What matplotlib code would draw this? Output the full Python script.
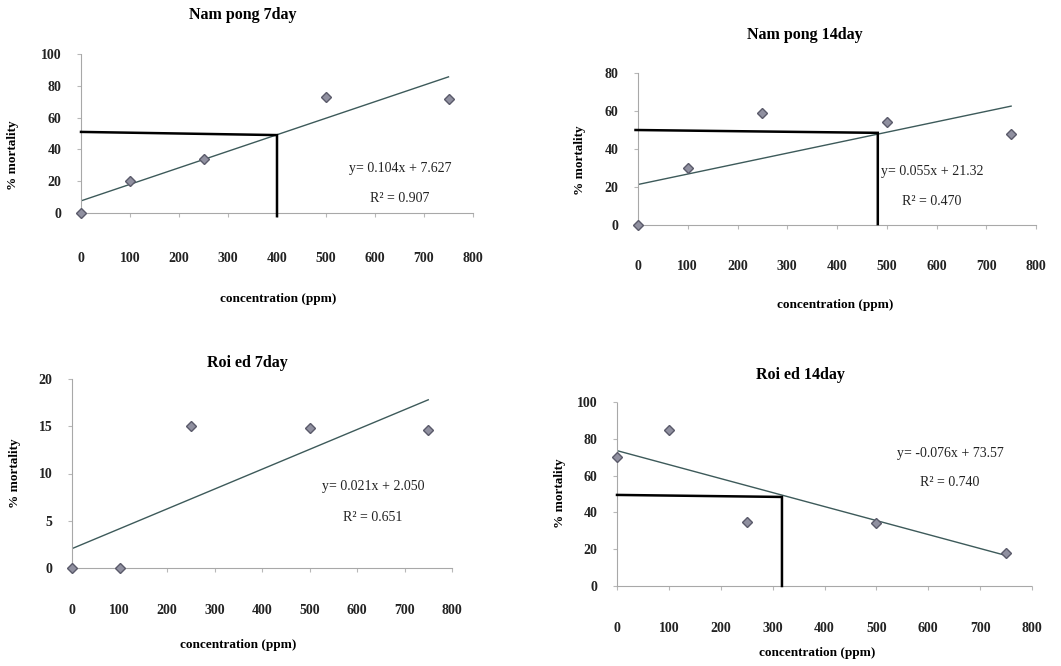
import matplotlib
matplotlib.use("Agg")
import matplotlib.pyplot as plt

plt.rcParams['font.family'] = ['Liberation Serif', 'DejaVu Serif']

W, H = 1061, 666

# ---------------- data ----------------
conc = [0, 100, 250, 500, 750]
titles = ["Nam pong 7day", "Nam pong 14day", "Roi ed 7day", "Roi ed 14day"]
mort_np7 = [0, 20, 34, 73, 72]
mort_np14 = [0, 30, 59, 54, 48]
mort_re7 = [0, 0, 15, 14.8, 14.6]
mort_re14 = [70, 85, 35, 34, 18]
slopes = [0.104, 0.055, 0.021, -0.076]
intercepts = [7.627, 21.32, 2.050, 73.57]
eq_texts = ["y= 0.104x + 7.627", "y= 0.055x + 21.32", "y= 0.021x + 2.050", "y= -0.076x + 73.57"]
r2_texts = ["R² = 0.907", "R² = 0.470", "R² = 0.651", "R² = 0.740"]
ymax = [100, 80, 20, 100]
ystep = [20, 20, 5, 20]
# LC50 reference lines (x, y) polylines
ref_np7 = ([0, 400, 400], [51, 49, -2])
ref_np14 = ([-5, 482, 482], [50, 48.5, 0.5])
ref_re7 = None
ref_re14 = ([0, 318, 318], [49.5, 48.4, 0])
xticks = [0, 100, 200, 300, 400, 500, 600, 700, 800]

series = [mort_np7, mort_np14, mort_re7, mort_re14]
refs = [ref_np7, ref_np14, ref_re7, ref_re14]

# ---------------- layout (pixels) ----------------
rects = [(81, 473, 213, 54), (638, 1036, 225, 73), (72, 452, 568, 379), (617, 1032, 586, 402)]
title_pos = [(243, 15), (805, 35), (247, 363), (800, 375)]
xlabel_pos = [(278, 299), (835, 305), (238, 645), (817, 653)]
ylabel_pos = [(13, 155), (580, 160), (15, 473), (560, 493)]
xpad = [25, 22, 23, 23]
eq_pos = [(651, 28, 9), (591, 27.9, 12.6), (634, 8.6, 5.3), (642, 72, 56)]

fig = plt.figure(figsize=(W / 100, H / 100), dpi=100)
fig.patch.set_facecolor('white')

for i in range(4):
    l, r, y0, y1 = rects[i]
    ax = fig.add_axes([l / W, (H - y0) / H, (r - l) / W, (y0 - y1) / H])
    ax.set_xlim(0, 800)
    ax.set_ylim(0, ymax[i])
    for s in ['top', 'right']:
        ax.spines[s].set_visible(False)
    for s in ['left', 'bottom']:
        ax.spines[s].set_linestyle((0, (1, 1)))
        ax.spines[s].set_color('#a8a8a8')
        ax.spines[s].set_linewidth(0.8)
    ax.set_xticks(xticks)
    ax.set_yticks(list(range(0, ymax[i] + 1, ystep[i])))
    ax.tick_params(axis='x', length=3, color='#b8b8b8', pad=xpad[i], labelsize=10)
    ax.tick_params(axis='y', length=3, color='#b8b8b8', pad=11, labelsize=10)
    for lab in ax.get_xticklabels() + ax.get_yticklabels():
        lab.set_fontweight('bold')
        lab.set_color('#222222')

    # trend line
    tx = [0, 750]
    ty = [slopes[i] * x + intercepts[i] for x in tx]
    ax.plot(tx, ty, color='#3d5a5a', lw=1.0, zorder=2)

    # reference lines
    if refs[i] is not None:
        ax.plot(refs[i][0], refs[i][1], color='black', lw=1.8, zorder=3,
                clip_on=False, solid_joinstyle='miter')

    # points
    ax.plot(conc, series[i], linestyle='none', marker='D', markersize=4.6,
            markerfacecolor='#9090a0', markeredgecolor='#5a5a6a',
            markeredgewidth=1.0, clip_on=False, zorder=4)

    ex, ey1, ey2 = eq_pos[i]
    ax.text(ex, ey1, eq_texts[i], ha='center', va='center', fontsize=10, color='#222222')
    ax.text(ex, ey2, r2_texts[i], ha='center', va='center', fontsize=10, color='#222222')

    tx_, ty_ = title_pos[i]
    fig.text(tx_ / W, 1 - ty_ / H, titles[i], ha='center', va='center',
             fontsize=11.5, fontweight='bold')
    xx, xy = xlabel_pos[i]
    fig.text(xx / W, 1 - xy / H, 'concentration (ppm)', ha='center', va='center',
             fontsize=9.5, fontweight='bold')
    yx, yy = ylabel_pos[i]
    fig.text(yx / W, 1 - yy / H, '% mortality', ha='center', va='center',
             fontsize=9.5, fontweight='bold', rotation=90)

fig.savefig('out.png', dpi=100)
